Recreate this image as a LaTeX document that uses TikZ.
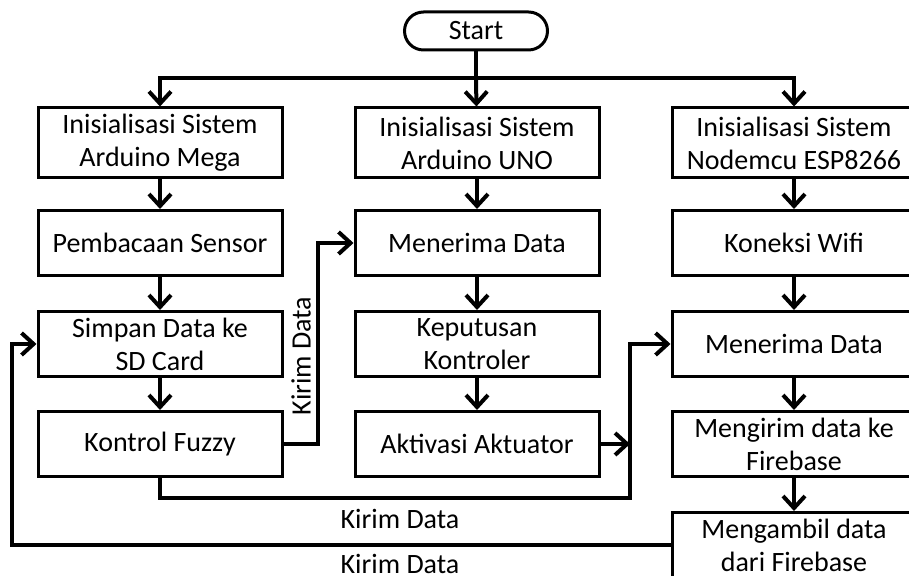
\documentclass[tikz,border=0pt]{standalone}
\usepackage{fontspec}
\setmainfont{Carlito}
\usetikzlibrary{arrows.meta}
\tikzset{
  box/.style={draw, line width=1.5pt, minimum width=122pt, minimum height=32.5pt,
    inner sep=0pt, align=center, font=\fontsize{14}{16.5}\selectfont},
  arr/.style={line width=2pt, -{Straight Barb[length=6pt,width=11pt]}},
  lbl/.style={font=\fontsize{14}{16.5}\selectfont}
}
\begin{document}
\begin{tikzpicture}[x=0.5pt,y=-0.5pt]
  \useasboundingbox (0,0) rectangle (909,576);

  \node[draw, line width=1.5pt, rounded corners=9.5pt, minimum width=71.5pt, minimum height=19pt, lbl] (0) at (476,31) {Start};

  \node[box, minimum height=35pt] (1) at (160,143) {Inisialisasi Sistem\\Arduino Mega};
  \node[box, minimum height=35pt] (2) at (477,143) {Inisialisasi Sistem\\Arduino UNO};
  \node[box, minimum height=35pt] (3) at (794,143) {Inisialisasi Sistem\\Nodemcu ESP8266};
  \node[box] (4) at (160,243) {Pembacaan Sensor};
  \node[box] (5) at (477,243) {Menerima Data};
  \node[box] (6) at (794,243) {Koneksi Wifi};
  \node[box] (7) at (160,344) {Simpan Data ke\\SD Card};
  \node[box] (8) at (477,344) {Keputusan\\Kontroler};
  \node[box] (9) at (794,344) {Menerima Data};
  \node[box] (10) at (160,444) {Kontrol Fuzzy};
  \node[box] (11) at (477,444) {Aktivasi Aktuator};
  \node[box] (12) at (794,444) {Mengirim data ke\\Firebase};
  \node[box] (13) at (794,545) {Mengambil data\\dari Firebase};

  \coordinate (s) at (476,78);
  \coordinate (k1) at (318,243);
  \coordinate (k2) at (630,498);
  \coordinate (k3) at (12,344);

  \draw[line width=2pt] (0) -- (s);
  \draw[arr] (s) -| (1);
  \draw[arr] (s) -- (2);
  \draw[arr] (s) -| (3);

  \draw[arr] (1) -- (4);
  \draw[arr] (4) -- (7);
  \draw[arr] (7) -- (10);
  \draw[arr] (2) -- (5);
  \draw[arr] (5) -- (8);
  \draw[arr] (8) -- (11);
  \draw[arr] (3) -- (6);
  \draw[arr] (6) -- (9);
  \draw[arr] (9) -- (12);
  \draw[arr] (12) -- (13);

  \draw[arr] (10.east) -| (k1) -- (5.west);
  \draw[arr] (10.south) |- (k2) |- (9.west);
  \draw[arr] (11.east) -- (11.east -| k2);
  \draw[arr] (13.west) -| (k3) -- (7.west);

  \node[lbl, rotate=90] (l1) at (301,356) {Kirim Data};
  \node[lbl] (l2) at (400,519) {Kirim Data};
  \node[lbl] (l3) at (400,564) {Kirim Data};
\end{tikzpicture}
\end{document}
